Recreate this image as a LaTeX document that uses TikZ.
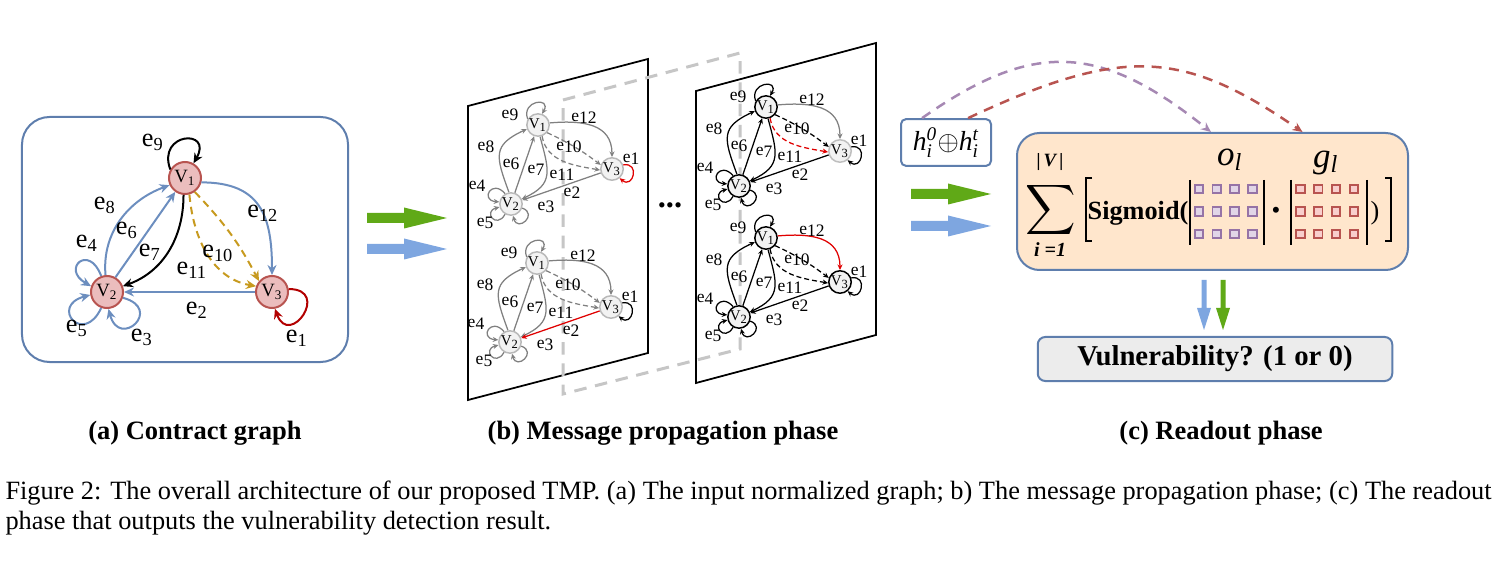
\documentclass[tikz,border=0pt]{standalone}
\usepackage{amsmath}
\usepackage{graphicx}
\usepackage{fontspec}
\setmainfont{Liberation Serif}
\usetikzlibrary{arrows.meta,calc}

\definecolor{framec}{HTML}{5E7EAD}
\definecolor{aedge}{HTML}{6C8EBF}
\definecolor{vpink}{HTML}{EBBDBD}
\definecolor{vred}{HTML}{B85450}
\definecolor{gold}{HTML}{C79A1F}
\definecolor{ared}{HTML}{B20000}
\definecolor{minired}{HTML}{E00000}
\definecolor{sumfill}{HTML}{FFE6CC}
\definecolor{opurple}{HTML}{9673A6}
\definecolor{olight}{HTML}{E1D5E7}
\definecolor{gred}{HTML}{B85450}
\definecolor{glight}{HTML}{F8CECC}
\definecolor{agreen}{HTML}{60A917}
\definecolor{ablue}{HTML}{7EA6E0}

\newcommand{\me}[1]{e\raisebox{-0.3ex}{#1}}
% one small graph on a sheet: prefix, v1 position, edges, e1, e2, e12, e11, node border, v3 border
\newcommand{\minigraph}[9]{%
\begin{scope}[shift={(#2)}]
\node[mininode,draw=#8] (#1a) at (0,0) {V\textsubscript{1}};
\node[mininode,draw=#8] (#1b) at (-27,-79) {V\textsubscript{2}};
\node[mininode,draw=#9] (#1c) at (74,-44) {V\textsubscript{3}};
\draw[miniarc,#3] (#1a.150) to[out=110,in=60,min distance=8pt] (#1a.70);
\draw[miniarc,#6] (#1a.10) to[out=5,in=90,looseness=1.2] (#1c.north);
\draw[miniarc,#3,minidash] (#1a.-40) to[bend left=6] (#1c.160);
\draw[miniarc,#7,minidash] (#1a.-70) to[out=-80,in=170] (#1c.185);
\draw[miniarc,#3] (#1b.100) to[out=110,in=205,looseness=1.5] (#1a.200);
\draw[miniarc,#3] (#1b) -- (#1a);
\draw[miniarc,#3] (#1a.-80) to[out=-75,in=25,looseness=1.4] (#1b.25);
\draw[miniarc,#5] (#1c) -- (#1b);
\draw[miniarc,#3] (#1b.120) to[out=130,in=175,min distance=8pt] (#1b.170);
\draw[miniarc,#3] (#1b.240) to[out=240,in=195,min distance=7pt] (#1b.195);
\draw[miniarc,#3] (#1b.-20) to[out=-20,in=-75,min distance=7pt] (#1b.-80);
\draw[miniarc,#4] (#1c.20) to[out=10,in=-40,min distance=7pt] (#1c.-50);
\foreach \n/\x/\y in {9/-28/10,12/46/7,10/31/-22,1/93/-34,8/-52/-22,6/-27/-39,7/-2/-45,11/24/-50,4/-61/-61,2/34/-68,3/8/-82,5/-53/-98}
  \node[minilab] (#1e\n) at (\x,\y) {\me{\n}};
\end{scope}}

\begin{document}
\begin{tikzpicture}[x=0.4pt,y=0.4pt,
  vnode/.style={circle, draw=vred, fill=vpink, line width=0.8pt, minimum size=12.8pt, inner sep=0pt, font=\fontsize{7.5}{8}\selectfont},
  aarc/.style={-{Stealth[length=4pt,width=3.6pt]}, line width=0.8pt},
  elab/.style={font=\fontsize{10.5}{11}\selectfont, inner sep=0pt},
  mininode/.style={circle, fill=gray!10, line width=0.6pt, minimum size=7.4pt, inner sep=0pt, font=\fontsize{6}{6}\selectfont},
  miniarc/.style={-{Stealth[length=2.2pt,width=2pt]}, line width=0.5pt},
  minidash/.style={dash pattern=on 2pt off 1.2pt},
  minilab/.style={font=\fontsize{7}{7}\selectfont, inner sep=0pt},
  sheet/.style={draw, fill=white, line width=0.7pt},
  frame/.style={draw=framec, line width=0.8pt},
  osq/.style={draw=opurple, fill=olight, line width=0.7pt, minimum size=3.4pt, inner sep=0pt},
  gsq/.style={draw=gred, fill=glight, line width=0.7pt, minimum size=3.4pt, inner sep=0pt},
  farc/.style={-{Stealth[length=4pt,width=3.5pt]}, line width=1pt, dash pattern=on 4pt off 3pt}]
\useasboundingbox (0,0) rectangle (1498,560);

% (a) contract graph
\node[frame, rounded corners=11pt, minimum width=130.4pt, minimum height=98pt] (graphbox) at (185,320.5) {};
\node[vnode] (v1) at (185,382) {V\textsubscript{1}};
\node[vnode] (v2) at (107,268) {V\textsubscript{2}};
\node[vnode] (v3) at (272,268) {V\textsubscript{3}};
\draw[aarc, black] (v1.150) to[out=110,in=60,min distance=16pt] (v1.60);
\draw[aarc, aedge] (v1.-15) to[out=0,in=90,looseness=1.3] (v3.north);
\draw[aarc, gold, dash pattern=on 3pt off 2pt] (v1.-55) to[bend left=8] (v3.140);
\draw[aarc, gold, dash pattern=on 3pt off 2pt] (v1.-75) to[out=-85,in=170] (v3.160);
\draw[aarc, black] (v1.-95) to[out=-90,in=20] (v2.20);
\draw[aarc, aedge] (v2.60) -- (v1.235);
\draw[aarc, aedge] (v2.95) to[out=95,in=200] (v1.205);
\draw[aarc, aedge] (v3) -- (v2);
\draw[aarc, aedge] (v2.110) to[out=110,in=150,min distance=14pt] (v2.160);
\draw[aarc, aedge] (v2.250) to[out=245,in=195,min distance=17pt] (v2.190);
\draw[aarc, aedge] (v2.-20) to[out=-15,in=-75,min distance=17pt] (v2.-85);
\draw[aarc, ared] (v3.10) to[out=0,in=-70,min distance=17pt] (v3.-80);
\foreach \n/\x/\y in {9/153/418,12/263/347,10/218/307,11/192/290,7/150/308,6/127/330,8/105/355,4/87/317,5/77/232,3/142/223,2/197/250,1/297/222}
  \node[elab] (e\n) at (\x,\y) {e\textsubscript{\n}};

% block arrows
\foreach \x/\y/\c in {367/342/agreen,367/311/ablue,911/366/agreen,911/334/ablue}
  \fill[\c] (\x,\y+5) -- ++(37,0) -- ++(0,5.5) -- ++(43,-10.5) -- ++(-43,-10.5) -- ++(0,5.5) -- ++(-37,0) -- cycle;

% (b) message propagation
\draw[sheet] (468,454) -- (648,501) -- (648,207) -- (468,160) -- cycle;
\draw[sheet] (696,469) -- (876,517) -- (876,225) -- (696,177) -- cycle;
\draw[gray!45, line width=1.2pt, dash pattern=on 5pt off 3.5pt] (563,460) -- (740,507) -- (740,211) -- (563,166) -- cycle;
\node[font=\bfseries\fontsize{13}{13}\selectfont] (dots) at (670,355) {...};
\minigraph{lt}{538,435}{gray}{minired}{gray}{gray}{gray}{gray!55}{gray!55}
\minigraph{lb}{537,297}{gray}{black}{minired}{gray}{gray}{gray!55}{gray!55}
\minigraph{rt}{766,453}{black}{black}{black}{gray}{minired}{black}{gray!50}
\minigraph{rb}{766,322}{black}{black}{black}{minired}{black}{black}{black}

% (c) readout
\node[frame, fill=white, rounded corners=2pt, minimum width=36pt, minimum height=16.4pt, font=\fontsize{11}{11}\selectfont] (hbox) at (946,417.5) {$\mathit{h}_{\mathit{i}}^{\mathit{0}}{\oplus}\mathit{h}_{\mathit{i}}^{\mathit{t}}$};
\node[frame, fill=sumfill, rounded corners=9pt, minimum width=156.4pt, minimum height=54.8pt] (sumbox) at (1212.5,358.5) {};
\node[frame, fill=gray!15, rounded corners=3pt, minimum width=141.8pt, minimum height=17.6pt, font=\bfseries\fontsize{11.5}{12}\selectfont] (vulbox) at (1215,201) {Vulnerability? (1 or 0)};
\node[inner sep=0pt] (sigma) at (1051,350) {\scalebox{1.4}{$\displaystyle\sum$}};
\node[font=\bfseries\itshape\fontsize{7.5}{8}\selectfont, inner sep=0pt] (upper) at (1050,398) {|\,V\,|};
\node[font=\bfseries\itshape\fontsize{8}{8}\selectfont, inner sep=0pt] (lower) at (1050,310) {i =1};
\draw[line width=0.8pt] (1092,382) -- (1086,382) -- (1086,319) -- (1092,319);
\draw[line width=0.8pt] (1385,382) -- (1391,382) -- (1391,319) -- (1385,319);
\node[font=\bfseries\fontsize{10.5}{11}\selectfont] (sig) at (1138,347) {Sigmoid(};
\draw[line width=0.8pt] (1190,380) -- (1190,315) (1263.5,380) -- (1263.5,315);
\draw[line width=0.8pt] (1291,380) -- (1291,315) (1367,380) -- (1367,315);
\foreach \i in {0,...,3} \foreach \j in {0,1,2} {
  \node[osq] (o\i\j) at (1199+17.8*\i,371-22.5*\j) {};
  \node[gsq] (g\i\j) at (1300.5+17.8*\i,371-22.5*\j) {};}
\node[font=\fontsize{10}{10}\selectfont] (dot) at (1276,347) {\textbullet};
\node[font=\fontsize{10.5}{11}\selectfont] (close) at (1375,347) {)};
\node[font=\fontsize{14}{14}\selectfont] (olab) at (1230,400) {\textit{o}\textsubscript{\textit{l}}};
\node[font=\fontsize{14}{14}\selectfont] (glab) at (1326,397) {\textit{g}\textsubscript{\textit{l}}};
\coordinate (ostart) at ($(hbox.north west)!0.24!(hbox.north east)$);
\coordinate (gstart) at ($(hbox.north west)!0.74!(hbox.north east)$);
\coordinate (oend) at ($(sumbox.north west)!0.496!(sumbox.north east)$);
\coordinate (gend) at ($(sumbox.north west)!0.729!(sumbox.north east)$);
\draw[farc, opurple!85] (ostart) .. controls +(111,78) and +(-111,89) .. (oend);
\draw[farc, gred] (gstart) .. controls +(154,72) and +(-120,83) .. (gend);
\foreach \x/\c in {1204/ablue,1223/agreen}
  \fill[\c] (\x-2.5,280) -- (\x+2.5,280) -- (\x+2.5,252) -- (\x+7,252) -- (\x,230) -- (\x-7,252) -- (\x-2.5,252) -- cycle;

% captions
\node[font=\bfseries\fontsize{10.6}{12}\selectfont] (capa) at (195,127) {(a) Contract graph};
\node[font=\bfseries\fontsize{10.6}{12}\selectfont] (capb) at (663,127) {(b) Message propagation phase};
\node[font=\bfseries\fontsize{10.6}{12}\selectfont] (capc) at (1221,127) {(c) Readout phase};
\node[anchor=west, align=left, inner sep=0pt, font=\fontsize{10.55}{12}\selectfont] (caption) at (5,52) {Figure 2: The overall architecture of our proposed TMP. (a) The input normalized graph; b) The message propagation phase; (c) The readout\\phase that outputs the vulnerability detection result.};
\end{tikzpicture}
\end{document}
